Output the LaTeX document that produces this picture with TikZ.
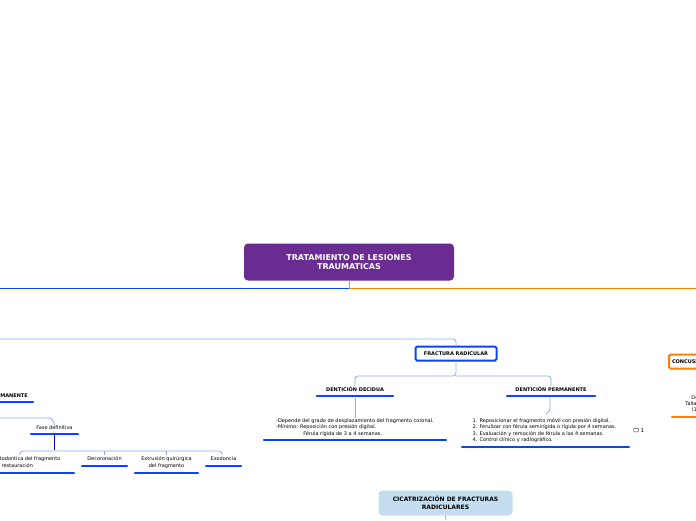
\documentclass[tikz,border=0pt]{standalone}
\usepackage{fontspec}
\setmainfont{DejaVu Sans}
\begin{document}
\begin{tikzpicture}[x=1pt,y=-1pt,
  txt/.style={font=\fontsize{5}{6.4}\selectfont,inner sep=0,align=center},
  btxt/.style={font=\fontsize{5}{6}\bfseries\selectfont,inner sep=0,align=center},
  ulo/.style={line width=2.2pt,draw=orange,line cap=round},
  conn/.style={draw={rgb,255:red,140;green,170;blue,245},line width=0.8pt,rounded corners=3pt},
  dconn/.style={draw=blue!75!black,line width=0.8pt}]
\definecolor{mainblue}{HTML}{0A45F0}
\tikzset{ul/.style={line width=2.2pt,draw=mainblue,line cap=round}}
\useasboundingbox (0,0) rectangle (696,520);
\clip (0,0) rectangle (696,520);
% title
\node[fill={rgb,255:red,106;green,44;blue,145},rounded corners=4pt,minimum width=210pt,minimum height=37pt,text=white,font=\fontsize{8}{9.5}\bfseries\selectfont,align=center] (title) at (349,262) {TRATAMIENTO DE LESIONES\\TRAUMATICAS};
\coordinate (hub) at (349,288);
\draw[draw={rgb,255:red,220;green,140;blue,120},line width=0.8pt] (title.south) -- (hub);
\draw[draw=mainblue,line width=0.8pt] (hub) -- (0,288);
\draw[draw=orange,line width=0.8pt] (hub) -- (696,288);
% fractura radicular
\node[draw=mainblue,line width=2pt,rounded corners=1.5pt,minimum width=81pt,minimum height=14pt,btxt] (fr) at (456,353.5) {FRACTURA RADICULAR};
\coordinate (lt) at (0,339);
\draw[conn] (fr.north) -- (456,339) -- (lt);
\node[btxt] (dd) at (355,389) {DENTICIÓN DECIDUA};
\draw[ul] (317,396) -- (393,396);
\node[btxt] (dp) at (551,389) {DENTICIÓN PERMANENTE};
\draw[ul] (507,396) -- (595,396);
\draw[conn] (fr.south) -- (456,376) -- (355,376) -- (dd.north);
\draw[conn] (456,376) -- (551,376) -- (dp.north);
\node[txt,align=left] (ddt) at (355,427.5) {-Depende del grado de desplazamiento del fragmento coronal.\\-Mínimo: Reposición con presión digital.\\\hspace{27pt}Férula rígida de 3 a 4 semanas.};
\draw[ul] (264,440) -- (446,440);
\draw[conn] (355,398) -- (ddt.north);
\node[txt,align=left] (dpt) at (544.5,430.5) {1. Reposicionar el fragmento móvil con presión digital.\\2. Ferulizar con férula semirígida o rígida por 4 semanas.\\3. Evaluación y remoción de férula a las 4 semanas.\\4. Control clínico y radiográfico.};
\draw[ul] (462,447) -- (629,447);
\draw[conn] (550,398) -- (550,411) -- (546,414);
\node[draw=black!70,line width=0.5pt,minimum width=4.5pt,minimum height=3.5pt,inner sep=0,rounded corners=0.5pt] (cm) at (636,430) {};
\node[font=\fontsize{5.5}{6}\selectfont,inner sep=0,anchor=west] (cmn) at (640.5,430) {1};
% concusion
\node[draw=orange,line width=2pt,rounded corners=1.5pt,minimum height=14pt,btxt,anchor=west] (con) at (668,361.5) {\hspace{3pt}CONCUSIÓN\hspace{3pt}};
\node[txt] (cont) at (706,404) {Decidua: ...\\Tallado selectivo\\(1 semana)};
\draw[ulo] (672,417) -- (700,417);
% left side
\node[btxt,anchor=east] (dp2) at (28,395) {DENTICIÓN PERMANENTE};
\draw[ul] (-5,402) -- (33,402);
\node[txt] (fd) at (54.5,427.5) {Fase definitiva};
\draw[ul] (31,434) -- (78,434);
\draw[conn] (0,418) -- (52,418) -- (fd.north);
\coordinate (bh) at (54,450);
\draw[dconn] (54,435) -- (bh);
\node[txt] (ex1) at (15,462.5) {Extrusión ortodontica del fragmento\\y restauración};
\draw[ul] (-5,473) -- (74,473);
\node[txt] (dec) at (104.5,459) {Decoronación};
\draw[ul] (82,466) -- (127,466);
\node[txt] (ex2) at (166.5,462.5) {Extrusión quirúrgica\\del fragmento};
\draw[ul] (135,473) -- (198,473);
\node[txt] (exo) at (223.5,459) {Exodoncia};
\draw[ul] (206,466) -- (241,466);
\draw[conn] (20,455) -- (20,451) -- (222,451) -- (222,455);
\draw[conn] (104,451) -- (104,455);
\draw[conn] (166,451) -- (166,455);
% cicatrizacion
\node[fill={rgb,255:red,196;green,222;blue,240},rounded corners=4pt,minimum width=134pt,minimum height=25pt,btxt,font=\fontsize{6}{7.5}\bfseries\selectfont] (cic) at (445.5,503) {CICATRIZACIÓN DE FRACTURAS\\RADICULARES};
\coordinate (cb) at (446,520);
\draw[draw={rgb,255:red,220;green,140;blue,120},line width=0.8pt] (cic.south) -- (cb);
\end{tikzpicture}
\end{document}
